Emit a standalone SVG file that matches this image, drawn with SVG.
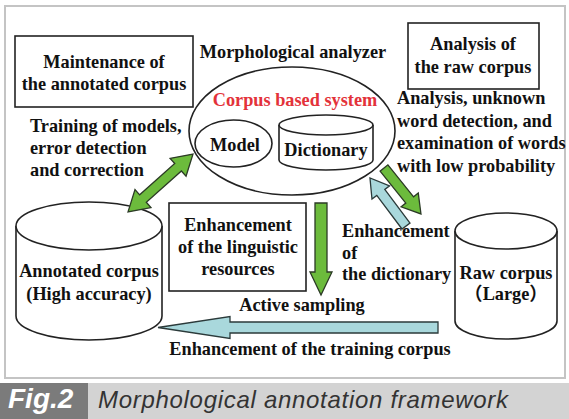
<svg xmlns="http://www.w3.org/2000/svg" width="569" height="419" viewBox="0 0 569 419">
<style>
.t{font-family:"Liberation Serif","Times New Roman",serif;font-weight:bold;font-size:18.3px;fill:#111}
.c{text-anchor:middle}
.box{fill:#fff;stroke:#222;stroke-width:1.6}
.shp{fill:#fff;stroke:#222;stroke-width:1.6}
.g{fill:#6cbb3c;stroke:#2b3a25;stroke-width:1.3;stroke-linejoin:miter}
.b{fill:#a9d8dc;stroke:#2b3a3a;stroke-width:1.3}
</style>
<rect x="0" y="0" width="569" height="419" fill="#fff"/>
<rect x="5" y="6" width="560" height="372" fill="#fff" stroke="#c4c4c4" stroke-width="2"/>

<g id="maintenance">
<rect class="box" x="15" y="36" width="178" height="71"/>
<text class="t c" x="104" y="68">Maintenance of</text>
<text class="t c" x="104" y="90">the annotated corpus</text>
</g>

<g id="analysis-raw">
<rect class="box" x="408" y="23" width="131" height="66"/>
<text class="t c" x="473" y="50">Analysis of</text>
<text class="t c" x="473" y="73">the raw corpus</text>
</g>

<g id="analyzer">
<text class="t c" x="293" y="58">Morphological analyzer</text>
<ellipse class="shp" cx="292" cy="131" rx="103" ry="64"/>
<text class="t c" x="295" y="106" style="fill:#e3323a">Corpus based system</text>
</g>

<g id="model">
<ellipse class="shp" cx="233.5" cy="143.5" rx="38.5" ry="23.5"/>
<text class="t c" x="235" y="151">Model</text>
</g>

<g id="dictionary">
<path class="shp" d="M279,125 L279,160 A47,10 0 0 0 373,160 L373,125"/>
<ellipse class="shp" cx="326" cy="125" rx="47" ry="10"/>
<text class="t c" x="326" y="156">Dictionary</text>
</g>

<g id="annotated-corpus">
<path class="shp" d="M16,226 L16,316 A73,24 0 0 0 162,316 L162,226"/>
<ellipse class="shp" cx="89" cy="226" rx="73" ry="24"/>
<text class="t c" x="89" y="277">Annotated corpus</text>
<text class="t c" x="89" y="300">(High accuracy)</text>
</g>

<g id="raw-corpus">
<path class="shp" d="M455,231 L455,321 A51,18 0 0 0 557,321 L557,231"/>
<ellipse class="shp" cx="506" cy="231" rx="51" ry="18"/>
<text class="t c" x="506" y="279">Raw corpus</text>
<text class="t c" x="506" y="300" style="font-family:'Liberation Serif','Noto Sans CJK SC',serif">（Large）</text>
</g>

<g id="enhancement-resources">
<rect class="box" x="169" y="203" width="137" height="88"/>
<text class="t c" x="238" y="231">Enhancement</text>
<text class="t c" x="238" y="253">of the linguistic</text>
<text class="t c" x="238" y="275">resources</text>
</g>

<g id="labels">
<text class="t" x="30" y="132">Training of models,</text>
<text class="t" x="30" y="154">error detection</text>
<text class="t" x="30" y="176">and correction</text>
<text class="t" x="397" y="104">Analysis, unknown</text>
<text class="t" x="397" y="127">word detection, and</text>
<text class="t" x="397" y="149">examination of words</text>
<text class="t" x="397" y="172">with low probability</text>
<text class="t" x="342" y="237">Enhancement</text>
<text class="t" x="342" y="259">of</text>
<text class="t" x="342" y="280">the dictionary</text>
<text class="t c" x="302" y="311">Active sampling</text>
<text class="t c" x="310" y="355">Enhancement of the training corpus</text>
</g>

<g id="connectors">
<path class="g" transform="translate(193,154) rotate(138.3)" d="M0,0 L20,-12 L20,-5 L67,-5 L67,-12 L87,0 L67,12 L67,5 L20,5 L20,12 Z"/>
<path class="g" transform="translate(384,168) rotate(51.2)" d="M0,-5 L41,-5 L41,-11 L59,0 L41,11 L41,5 L0,5 Z"/>
<path class="b" transform="translate(406,226) rotate(-126.9)" d="M0,-5 L42,-5 L42,-11 L60,0 L42,11 L42,5 L0,5 Z"/>
<path class="g" transform="translate(321,203) rotate(90)" d="M0,-6 L69,-6 L69,-11 L92,0 L69,11 L69,6 L0,6 Z"/>
<path class="b" transform="translate(438,327.5) rotate(180)" d="M0,-5.5 L208,-5.5 L208,-11 L280,0 L208,11 L208,5.5 L0,5.5 Z"/>
</g>

<g id="caption">
<rect x="0" y="383" width="569" height="36" fill="#d3d3d3"/>
<rect x="0" y="383" width="88" height="36" fill="#7b7b7b"/>
<text x="8" y="408" style="font-family:'Liberation Sans',Arial,sans-serif;font-weight:bold;font-style:italic;font-size:28px;fill:#fff">Fig.2</text>
<text x="98" y="408" textLength="410" lengthAdjust="spacing" style="font-family:'Liberation Sans',Arial,sans-serif;font-style:italic;font-size:24px;fill:#333">Morphological annotation framework</text>
</g>
</svg>
